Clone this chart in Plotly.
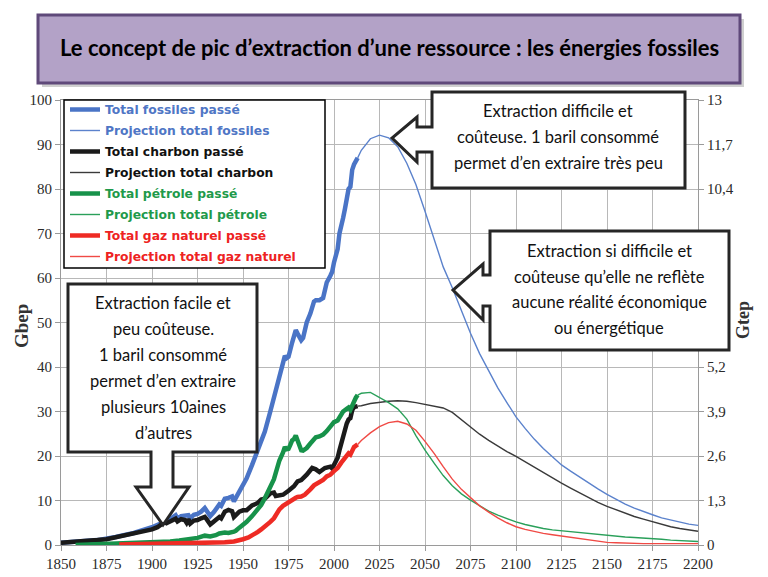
import plotly.graph_objects as go

# ---------------- data (Gbep) ----------------
coal_past_years = [1850, 1855, 1860, 1865, 1870, 1875, 1880, 1885, 1890, 1895, 1900, 1903, 1905, 1907, 1908,
                   1910, 1913, 1914, 1916, 1918, 1919, 1920, 1921, 1923, 1925, 1927, 1929, 1930, 1932, 1934,
                   1937, 1938, 1940, 1942, 1944, 1945, 1946, 1948, 1950, 1952, 1955, 1958, 1960, 1962, 1965,
                   1967, 1968, 1970, 1972, 1975, 1978, 1980, 1982, 1985, 1988, 1990, 1992, 1995, 1998, 1999,
                   2000, 2002, 2003, 2004, 2005, 2006, 2007, 2008, 2009, 2010, 2011, 2013]
coal_past = [0.5, 0.6, 0.8, 0.9, 1.1, 1.3, 1.7, 2.1, 2.5, 2.9, 3.5, 4.0, 4.5, 5.2, 4.9,
             5.3, 5.9, 5.3, 5.8, 5.6, 5.0, 5.8, 4.8, 5.5, 5.6, 6.0, 6.3, 5.8, 4.6, 5.3,
             6.3, 6.0, 7.5, 7.9, 7.6, 6.3, 6.8, 7.5, 7.8, 7.8, 8.9, 9.4, 10.2, 10.4, 11.6,
             11.8, 11.0, 11.1, 11.3, 12.2, 13.2, 14.3, 14.6, 15.8, 17.3, 17.0, 16.4, 17.3, 17.6, 17.2,
             18.2, 19.6, 21.3, 23.0, 24.5, 25.8, 27.3, 28.2, 28.5, 30.3, 31.0, 31.2]

fossil_past_years = [1850, 1860, 1870, 1880, 1890, 1900, 1905, 1907, 1910, 1913, 1914, 1916, 1920, 1921, 1923,
                     1925, 1927, 1929, 1930, 1932, 1934, 1937, 1938, 1940, 1942, 1944, 1945, 1946, 1948, 1950,
                     1952, 1955, 1958, 1960, 1962, 1965, 1967, 1968, 1970, 1972, 1973, 1974, 1975, 1977, 1979,
                     1980, 1982, 1983, 1985, 1987, 1989, 1990, 1992, 1994, 1996, 1998, 1999, 2000, 2001, 2002,
                     2003, 2004, 2005, 2006, 2007, 2008, 2009, 2010, 2011, 2012, 2013]
fossil_past = [0.5, 0.8, 1.1, 1.8, 2.7, 4.0, 4.9, 5.7, 5.8, 6.7, 6.0, 6.5, 6.7, 6.0, 6.8,
               7.0, 7.5, 8.3, 7.8, 6.5, 7.4, 9.1, 8.8, 10.4, 10.6, 10.9, 9.8, 10.5, 12.0, 13.5,
               15.0, 18.0, 21.0, 23.0, 25.5, 30.0, 33.0, 34.5, 38.0, 41.0, 42.5, 42.0, 42.3, 45.5, 48.3,
               47.5, 46.0, 46.5, 50.0, 52.0, 54.7, 55.0, 55.0, 55.5, 59.0, 60.5, 61.4, 63.5, 64.8, 66.5,
               70.0, 72.5, 73.5, 75.5, 77.5, 80.0, 80.5, 84.3, 85.5, 86.5, 87.0]

oil_past_years = [1858, 1865, 1870, 1880, 1890, 1900, 1905, 1910, 1915, 1920, 1925, 1929, 1932, 1935, 1937,
                  1940, 1942, 1945, 1946, 1948, 1950, 1952, 1955, 1958, 1960, 1962, 1965, 1967, 1968, 1970,
                  1972, 1973, 1974, 1975, 1976, 1977, 1978, 1979, 1980, 1981, 1982, 1983, 1985, 1987, 1989,
                  1990, 1992, 1994, 1996, 1998, 2000, 2002, 2004, 2005, 2007, 2008, 2009, 2010, 2011, 2012, 2013]
oil_past = [0.0, 0.1, 0.1, 0.2, 0.3, 0.5, 0.6, 0.8, 1.0, 1.3, 1.6, 2.1, 1.9, 2.2, 2.6,
            2.8, 2.7, 3.0, 3.2, 3.9, 4.5, 5.2, 6.5, 7.8, 9.0, 10.5, 12.8, 14.8, 16.2, 19.0,
            20.8, 22.0, 21.5, 21.6, 22.5, 23.5, 23.8, 24.6, 23.5, 22.3, 21.3, 21.2, 21.8, 22.8, 23.8,
            24.2, 24.4, 24.8, 25.6, 26.6, 27.6, 28.0, 29.5, 30.0, 30.6, 30.9, 30.4, 31.5, 32.5, 33.1, 33.7]

gas_past_years = [1882, 1890, 1900, 1910, 1920, 1930, 1935, 1940, 1945, 1948, 1950, 1953, 1955, 1958, 1960,
                  1962, 1965, 1967, 1968, 1970, 1972, 1974, 1975, 1977, 1979, 1980, 1982, 1984, 1985, 1987,
                  1989, 1990, 1992, 1994, 1996, 1998, 2000, 2002, 2004, 2005, 2007, 2008, 2009, 2010, 2011, 2013]
gas_past = [0.1, 0.15, 0.2, 0.3, 0.4, 0.5, 0.5, 0.6, 0.8, 1.0, 1.3, 1.7, 2.1, 2.9, 3.5,
            4.1, 5.2, 6.0, 6.7, 8.0, 8.8, 9.4, 9.6, 10.0, 10.6, 10.8, 10.9, 11.3, 11.6, 12.5,
            13.4, 13.6, 14.2, 14.6, 15.4, 15.8, 16.6, 17.3, 18.5, 19.0, 19.8, 20.6, 20.3, 21.3, 22.0, 22.6]

proj_years = [2013, 2015, 2020, 2025, 2030, 2035, 2040, 2045, 2050, 2055, 2060, 2065, 2070, 2075, 2080,
              2085, 2090, 2095, 2100, 2105, 2110, 2115, 2120, 2125, 2130, 2135, 2140, 2145, 2150, 2155,
              2160, 2165, 2170, 2175, 2180, 2185, 2190, 2195, 2200]
fossil_proj = [87.0, 88.7, 91.3, 92.1, 91.5, 89.5, 85.8, 81.0, 75.0, 68.5, 62.5, 57.8, 52.6, 47.6, 43.0,
               39.0, 35.3, 32.0, 28.8, 26.2, 23.8, 21.7, 19.8, 18.0, 16.6, 15.2, 13.9, 12.6, 11.4, 10.3,
               9.2, 8.3, 7.5, 6.8, 6.1, 5.6, 5.1, 4.7, 4.4]
coal_proj = [31.2, 31.3, 31.8, 32.1, 32.3, 32.4, 32.3, 32.0, 31.6, 31.2, 30.8, 29.8, 28.2, 26.4, 24.9,
             23.5, 22.2, 21.0, 19.9, 18.7, 17.4, 16.2, 15.0, 13.9, 12.8, 11.7, 10.6, 9.6, 8.7, 7.9,
             7.1, 6.4, 5.8, 5.2, 4.6, 4.1, 3.7, 3.4, 3.1]
oil_proj = [33.7, 34.1, 34.3, 33.2, 32.0, 30.6, 28.3, 24.6, 21.3, 18.4, 15.6, 13.3, 11.5, 10.1, 8.8,
            7.6, 6.7, 5.9, 5.2, 4.6, 4.1, 3.7, 3.4, 3.2, 3.0, 2.8, 2.5, 2.3, 2.1, 1.9,
            1.8, 1.7, 1.6, 1.5, 1.3, 1.1, 1.0, 0.9, 0.8]
gas_proj = [22.6, 23.5, 25.2, 26.6, 27.5, 27.8, 27.2, 25.8, 23.3, 20.6, 17.6, 14.8, 12.5, 10.6, 8.8,
            7.4, 6.1, 5.0, 4.1, 3.5, 3.0, 2.6, 2.3, 2.0, 1.7, 1.5, 1.2, 0.9, 0.6, 0.5,
            0.4, 0.3, 0.3, 0.3, 0.3, 0.3, 0.3, 0.3, 0.3]

x_ticks = [1850, 1875, 1900, 1925, 1950, 1975, 2000, 2025, 2050, 2075, 2100, 2125, 2150, 2175, 2200]
y_ticks = [0, 10, 20, 30, 40, 50, 60, 70, 80, 90, 100]
y2_ticks = [0, 1.3, 2.6, 3.9, 5.2, 6.5, 7.8, 9.1, 10.4, 11.7, 13]
y2_labels = ["0", "1,3", "2,6", "3,9", "5,2", "", "", "", "10,4", "11,7", "13"]

series = [
    ("Total fossiles passé", fossil_past_years, fossil_past, "#4a74c6", 4.5, "#4f76c5"),
    ("Projection total fossiles", proj_years, fossil_proj, "#5b82cc", 1.4, "#4f76c5"),
    ("Total charbon passé", coal_past_years, coal_past, "#1a1a1a", 4.5, "#111111"),
    ("Projection total charbon", proj_years, coal_proj, "#3a3a3a", 1.4, "#111111"),
    ("Total pétrole passé", oil_past_years, oil_past, "#17924a", 4.5, "#1f9a4b"),
    ("Projection total pétrole", proj_years, oil_proj, "#2aa05a", 1.4, "#1f9a4b"),
    ("Total gaz naturel passé", gas_past_years, gas_past, "#ee2b24", 4.5, "#ee2222"),
    ("Projection total gaz naturel", proj_years, gas_proj, "#f04a45", 1.4, "#ee2222"),
]

# ---------------- figure ----------------
# page has an 8px body margin: figure is 760x569 and sits at (8, 8) in the 768x577 window
OFF = 8
W, H = 768 - OFF, 577 - OFF
PL, PR, PT, PB = 61, 698, 100, 545          # plot area in page pixels
L, R, T, B = PL - OFF, W + OFF - PR, PT - OFF, H + OFF - PB
PW, PH = PR - PL, PB - PT


def X(px):
    return (px - PL) / PW


def Y(py):
    return (PB - py) / PH


fig = go.Figure()
for i, (name, xs, ys, col, lw, tcol) in enumerate(series):
    fig.add_trace(go.Scatter(
        x=xs, y=ys, mode="lines", line=dict(color=col, width=lw),
        name=f'<span style="color:{tcol}">{name}</span>', legendgroup=f"g{i}",
        hoverinfo="skip"))
fig.add_trace(go.Scatter(x=[], y=[], yaxis="y2", showlegend=False, hoverinfo="skip"))

axis_font = dict(family="Liberation Serif, DejaVu Serif, serif", size=15, color="#2a2a2a")
fig.update_layout(
    width=W, height=H, margin=dict(l=L, r=R, t=T, b=B, pad=0), autosize=False,
    paper_bgcolor="white", plot_bgcolor="white",
    xaxis=dict(range=[1850, 2200], tickvals=x_ticks, showgrid=True, gridcolor="#b8b8b8", gridwidth=1.3,
               showline=True, linecolor="#9a9a9a", linewidth=1, mirror=True, ticks="outside", ticklen=5,
               tickcolor="#9a9a9a", tickfont=axis_font, zeroline=False, fixedrange=True, automargin=False),
    yaxis=dict(range=[0, 100], tickvals=y_ticks, showgrid=True, gridcolor="#b8b8b8", gridwidth=1.3,
               showline=True, linecolor="#9a9a9a", linewidth=1, ticks="outside", ticklen=5,
               tickcolor="#9a9a9a", tickfont=axis_font, zeroline=False, fixedrange=True, automargin=False),
    yaxis2=dict(range=[0, 13], overlaying="y", side="right", tickvals=y2_ticks, ticktext=y2_labels,
                showgrid=False, showline=True, linecolor="#9a9a9a", ticks="outside", ticklen=5,
                tickcolor="#9a9a9a", tickfont=axis_font, zeroline=False, fixedrange=True, automargin=False),
    legend=dict(x=X(65), y=Y(95), xanchor="left", yanchor="top", bgcolor="rgba(0,0,0,0)",
                borderwidth=0,
                font=dict(family="DejaVu Sans, Liberation Sans, sans-serif", size=12.3,
                          color="#111", weight="bold"),
                tracegroupgap=2, itemwidth=30),
    showlegend=True,
)

shapes = []
# legend frame
shapes.append(dict(type="rect", xref="paper", yref="paper", x0=X(64), x1=X(325), y0=Y(100), y1=Y(268),
                   fillcolor="white", line=dict(color="black", width=1.5), layer="above"))
# title box with shadow
shapes.append(dict(type="rect", xref="paper", yref="paper", x0=X(42), x1=X(744), y0=Y(19), y1=Y(87),
                   fillcolor="#cfcfcf", line=dict(width=0), layer="above"))
shapes.append(dict(type="rect", xref="paper", yref="paper", x0=X(38), x1=X(740), y0=Y(15), y1=Y(83),
                   fillcolor="#b3a2c7", line=dict(color="#5f497a", width=3), layer="above"))


def path(points):
    return "M " + " L ".join(f"{X(a):.5f},{Y(b):.5f}" for a, b in points) + " Z"


callout_line = dict(color="#262626", width=3)
c1 = [(68, 284), (257, 284), (257, 452), (173, 452), (173, 487), (189, 487), (163, 525),
      (136, 487), (151, 487), (151, 452), (68, 452)]
c2 = [(432, 92), (685, 92), (685, 188), (432, 188), (432, 152), (417, 152), (417, 162), (392, 138),
      (417, 117), (417, 127), (432, 127)]
c3 = [(490, 231), (729, 231), (729, 350), (490, 350), (490, 306), (483, 306), (483, 320), (453, 290),
      (483, 264), (483, 275), (490, 275)]
for c in (c1, c2, c3):
    shapes.append(dict(type="path", xref="paper", yref="paper", path=path(c), fillcolor="white",
                       line=callout_line, layer="above"))
fig.update_layout(shapes=shapes)

ann = []
ann.append(dict(text="<b>Le concept de pic d’extraction d’une ressource : les énergies fossiles</b>",
                x=X(389), y=Y(48), xref="paper", yref="paper", showarrow=False,
                font=dict(family="Lato, Open Sans, sans-serif", size=22, color="black"),
                xanchor="center", yanchor="middle"))
callout_font = dict(family="Lato, Open Sans, sans-serif", size=16.5, color="#111")
texts = [
    (163, [303, 329, 355, 381, 407, 433],
     ["Extraction facile et", "peu coûteuse.", "1 baril consommé", "permet d’en extraire",
      "plusieurs 10aines", "d’autres"]),
    (558, [111, 137, 163],
     ["Extraction difficile et", "coûteuse. 1 baril consommé", "permet d’en extraire très peu"]),
    (609, [251, 277, 302, 328],
     ["Extraction si difficile et", "coûteuse qu’elle ne reflète", "aucune réalité économique",
      "ou énergétique"]),
]
for cx, ys, lines in texts:
    for yy, t in zip(ys, lines):
        ann.append(dict(text=t, x=X(cx), y=Y(yy), xref="paper", yref="paper", showarrow=False,
                        font=callout_font, xanchor="center", yanchor="middle"))
ann.append(dict(text="Gbep", x=X(21), y=Y(326), xref="paper", yref="paper", showarrow=False,
                textangle=-90, xanchor="center", yanchor="middle",
                font=dict(family="Liberation Serif, DejaVu Serif, serif", size=19, color="#333333",
                          weight="bold")))
ann.append(dict(text="Gtep", x=X(743), y=Y(320), xref="paper", yref="paper", showarrow=False,
                textangle=-90, xanchor="center", yanchor="middle",
                font=dict(family="Liberation Serif, DejaVu Serif, serif", size=18, color="#333333",
                          weight="bold")))
fig.update_layout(annotations=ann)

fig.write_html("out.html")
